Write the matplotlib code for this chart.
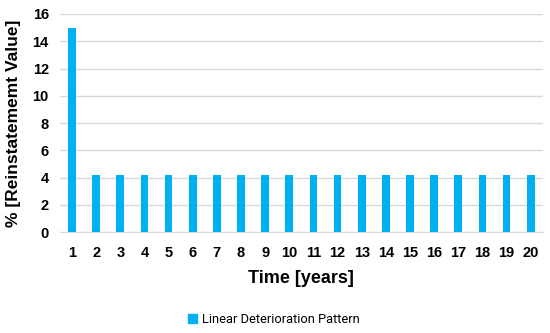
import numpy as np
from matplotlib import pyplot as plt
from matplotlib.patches import Patch

plt.rcParams['font.family'] = ['Liberation Sans', 'DejaVu Sans']

years = list(range(1, 21))
values = [15.0] + [4.2] * 19
series_name = 'Linear Deterioration Pattern'
bar_color = '#00B0F0'

fig = plt.figure(figsize=(5.5, 3.33), dpi=100)
ax = fig.add_axes([0.109, 0.303, 0.878, 0.655])

ax.bar(years, values, width=0.32, color=bar_color, zorder=3)

ax.set_xlim(0.5, 20.5)
ax.set_ylim(0, 16)
ax.set_yticks(np.arange(0, 17, 2))
ax.set_xticks(years)
ax.yaxis.grid(True, color='#d9d9d9', linewidth=1)
ax.set_axisbelow(True)
ax.tick_params(axis='x', length=0, labelsize=10.5, pad=10)
ax.tick_params(axis='y', length=0, labelsize=10.5, pad=8)
for lbl in ax.get_xticklabels() + ax.get_yticklabels():
    lbl.set_fontweight('bold')
for name, spine in ax.spines.items():
    if name == 'bottom':
        spine.set_color('#d9d9d9')
    else:
        spine.set_visible(False)

ax.set_xlabel('Time [years]', fontsize=13, fontweight='bold', labelpad=7)
ax.set_ylabel('% [Reinstatememt Value]', fontsize=12.5, fontweight='bold', labelpad=8)

fig.legend(handles=[Patch(color=bar_color, label=series_name)], loc='center',
           bbox_to_anchor=(0.498, 0.04), frameon=False,
           prop={'family': 'Roboto', 'size': 9.3},
           handlelength=0.7, handleheight=0.7, handletextpad=0.4)

fig.savefig('out.png', dpi=100)
